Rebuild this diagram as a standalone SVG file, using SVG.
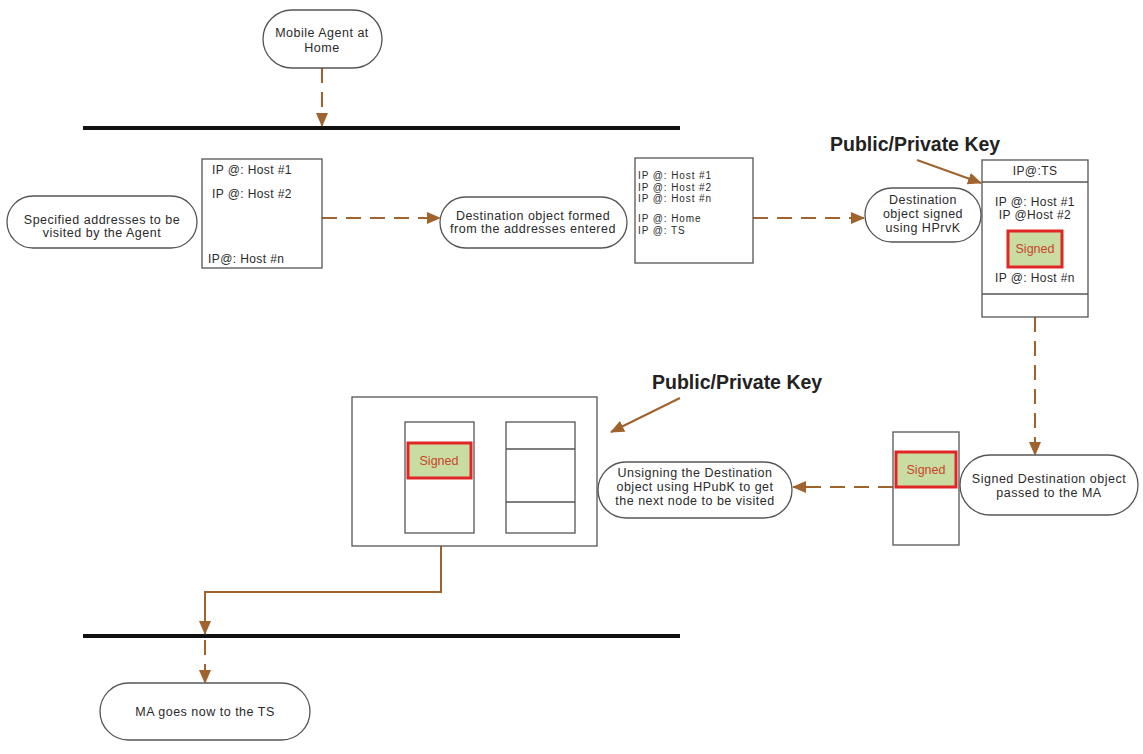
<svg xmlns="http://www.w3.org/2000/svg" width="1143" height="754" viewBox="0 0 1143 754">
  <style>
    .bg { fill: #ffffff; }
    .pill { fill: #ffffff; stroke: #555555; stroke-width: 1.3; }
    .box { fill: #ffffff; stroke: #555555; stroke-width: 1.3; }
    .sep { stroke: #555555; stroke-width: 1.3; }
    .t { font-family: "Liberation Sans", Arial, sans-serif; font-size: 12.5px; fill: #2a2a2a; letter-spacing: 0.5px; }
    .s { font-family: "Liberation Sans", Arial, sans-serif; font-size: 12px; fill: #2a2a2a; letter-spacing: 0.4px; }
    .n { font-family: "Liberation Sans", Arial, sans-serif; font-size: 10px; fill: #2a2a2a; letter-spacing: 0.9px; }
    .c { text-anchor: middle; }
    .key { font-family: "Liberation Sans", Arial, sans-serif; font-size: 19.5px; font-weight: bold; fill: #222222; }
    .sig { fill: #c9dca2; stroke: #e02626; stroke-width: 3; }
    .sigt { font-family: "Liberation Sans", Arial, sans-serif; font-size: 12.5px; fill: #c8452c; text-anchor: middle; }
    .bus { stroke: #111111; stroke-width: 4; }
    .dash { fill: none; stroke: #a0632d; stroke-width: 2; stroke-dasharray: 15 9; }
    .solid { fill: none; stroke: #a0632d; stroke-width: 2; }
  </style>
  <defs>
    <marker id="ah" markerUnits="userSpaceOnUse" markerWidth="14" markerHeight="12" refX="13" refY="6" orient="auto">
      <path d="M0,0 L14,6 L0,12 Z" fill="#a0632d"/>
    </marker>
  </defs>

  <rect class="bg" x="0" y="0" width="1143" height="754"/>

  <!-- network buses -->
  <g id="buses">
    <line class="bus" x1="83" y1="128" x2="680" y2="128"/>
    <line class="bus" x1="83" y1="636" x2="680" y2="636"/>
  </g>

  <!-- connectors -->
  <g id="connectors">
    <line class="dash" x1="322" y1="68" x2="322" y2="126" marker-end="url(#ah)"/>
    <line class="dash" x1="322" y1="218" x2="440" y2="218" marker-end="url(#ah)"/>
    <line class="dash" x1="753" y1="218" x2="864" y2="218" marker-end="url(#ah)"/>
    <line class="solid" x1="917" y1="160" x2="981" y2="183" marker-end="url(#ah)"/>
    <line class="dash" x1="1035" y1="317" x2="1035" y2="455" marker-end="url(#ah)"/>
    <line class="dash" x1="893" y1="487" x2="793" y2="487" marker-end="url(#ah)"/>
    <line class="solid" x1="680" y1="398" x2="611" y2="432" marker-end="url(#ah)"/>
    <path class="solid" d="M441,546 V592 H205 V634" marker-end="url(#ah)"/>
    <line class="dash" x1="205" y1="640" x2="205" y2="683" marker-end="url(#ah)"/>
  </g>

  <!-- mobile agent at home -->
  <g id="n-home">
    <rect class="pill" x="263" y="10" width="119" height="58" rx="29"/>
    <text class="t c" x="322" y="37">Mobile Agent at</text>
    <text class="t c" x="322" y="52">Home</text>
  </g>

  <g id="n-specified">
    <rect class="pill" x="7" y="196" width="190" height="52" rx="26"/>
    <text class="t c" x="102" y="224">Specified addresses to be</text>
    <text class="t c" x="102" y="237">visited by the Agent</text>
  </g>

  <g id="n-addresses">
    <rect class="box" x="202" y="159" width="120" height="109"/>
    <text class="s" x="212" y="174">IP @: Host #1</text>
    <text class="s" x="212" y="198">IP @: Host #2</text>
    <text class="s" x="208" y="263">IP@: Host #n</text>
  </g>

  <g id="n-formed">
    <rect class="pill" x="440" y="197" width="187" height="51" rx="25.5"/>
    <text class="t c" x="533" y="220">Destination object formed</text>
    <text class="t c" x="533" y="233">from the addresses entered</text>
  </g>

  <g id="n-destination">
    <rect class="box" x="635" y="158" width="118" height="105"/>
    <text class="n" x="638" y="179">IP @: Host #1</text>
    <text class="n" x="638" y="190.5">IP @: Host #2</text>
    <text class="n" x="638" y="202">IP @: Host #n</text>
    <text class="n" x="638" y="222">IP @: Home</text>
    <text class="n" x="638" y="233.5">IP @: TS</text>
  </g>

  <g id="n-signed-prvk">
    <rect class="pill" x="865" y="188" width="116" height="54" rx="27"/>
    <text class="t c" x="923" y="204">Destination</text>
    <text class="t c" x="923" y="218">object signed</text>
    <text class="t c" x="923" y="232">using HPrvK</text>
  </g>

  <g id="key-top">
    <text class="key" x="830" y="151">Public/Private Key</text>
  </g>

  <g id="n-ts-object">
    <rect class="box" x="982" y="160" width="106" height="157"/>
    <line class="sep" x1="982" y1="182" x2="1088" y2="182"/>
    <line class="sep" x1="982" y1="294" x2="1088" y2="294"/>
    <text class="s c" x="1035" y="175">IP@:TS</text>
    <text class="s c" x="1035" y="206">IP @: Host #1</text>
    <text class="s c" x="1035" y="219">IP @Host #2</text>
    <rect class="sig" x="1008" y="231" width="54" height="36"/>
    <text class="sigt" x="1035" y="253">Signed</text>
    <text class="s c" x="1035" y="282">IP @: Host #n</text>
  </g>

  <g id="n-passed">
    <rect class="pill" x="960" y="455" width="178" height="60" rx="30"/>
    <text class="t c" x="1049" y="483">Signed Destination object</text>
    <text class="t c" x="1049" y="497">passed to the MA</text>
  </g>

  <g id="n-signed-column">
    <rect class="box" x="893" y="432" width="66" height="113"/>
    <rect class="sig" x="896" y="452" width="60" height="35"/>
    <text class="sigt" x="926" y="474">Signed</text>
  </g>

  <g id="n-unsign">
    <rect class="pill" x="598" y="462" width="194" height="56" rx="28"/>
    <text class="t c" x="695" y="477">Unsigning the Destination</text>
    <text class="t c" x="695" y="491">object using HPubK to get</text>
    <text class="t c" x="695" y="505">the next node to be visited</text>
  </g>

  <g id="key-bottom">
    <text class="key" x="652" y="389">Public/Private Key</text>
  </g>

  <g id="n-host">
    <rect class="box" x="352" y="397" width="245" height="149"/>
    <rect class="box" x="405" y="422" width="69" height="111"/>
    <rect class="sig" x="408" y="443" width="63" height="35"/>
    <text class="sigt" x="439" y="465">Signed</text>
    <rect class="box" x="506" y="422" width="69" height="111"/>
    <line class="sep" x1="506" y1="449" x2="575" y2="449"/>
    <line class="sep" x1="506" y1="502" x2="575" y2="502"/>
  </g>

  <g id="n-ma-ts">
    <rect class="pill" x="100" y="683" width="210" height="57" rx="28.5"/>
    <text class="t c" x="205" y="716">MA goes now to the TS</text>
  </g>
</svg>
